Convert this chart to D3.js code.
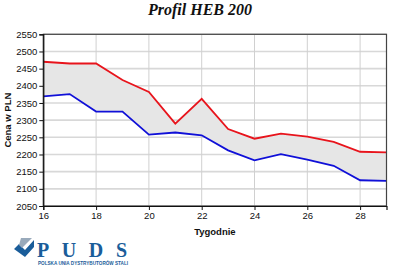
<!DOCTYPE html>
<html><head><meta charset="utf-8">
<script src="https://cdn.jsdelivr.net/npm/d3@7"></script>
<style>body{margin:0;background:#fff}svg{display:block}</style>
</head><body>
<script>
const weeks = [16,17,18,19,20,21,22,23,24,25,26,27,28,29];
const maxPrice = [2470,2465,2465,2417,2382,2290,2362,2274,2246,2261,2252,2237,2208,2206];
const minPrice = [2369,2376,2325,2325,2258,2264,2256,2212,2183,2201,2185,2167,2125,2123];
const xTicks = [16,18,20,22,24,26,28];
const yTicks = [2050,2100,2150,2200,2250,2300,2350,2400,2450,2500,2550];

const W=400,H=271;
const svg=d3.select("body").append("svg").attr("width",W).attr("height",H);
const L=43.3,R=386.5,T=34.3,B=206;
const x=d3.scaleLinear().domain([16,29]).range([L,R]);
const y=d3.scaleLinear().domain([2050,2550]).range([B,T]);

svg.append("g").selectAll("line").data(yTicks).join("line")
 .attr("x1",L).attr("x2",R).attr("y1",d=>y(d)).attr("y2",d=>y(d))
 .attr("stroke","#d8d8d8").attr("stroke-width",1.6);
svg.append("g").selectAll("line").data(xTicks).join("line")
 .attr("x1",d=>x(d)).attr("x2",d=>x(d)).attr("y1",T).attr("y2",B)
 .attr("stroke","#d0d0d0").attr("stroke-width",1);

const data=weeks.map((w,i)=>({w,hi:maxPrice[i],lo:minPrice[i]}));
svg.append("path").datum(data)
 .attr("d",d3.area().x(d=>x(d.w)).y0(d=>y(d.lo)).y1(d=>y(d.hi)))
 .attr("fill","#e6e6e6");
svg.append("path").datum(data).attr("d",d3.line().x(d=>x(d.w)).y(d=>y(d.hi)))
 .attr("fill","none").attr("stroke","#e8141c").attr("stroke-width",1.8);
svg.append("path").datum(data).attr("d",d3.line().x(d=>x(d.w)).y(d=>y(d.lo)))
 .attr("fill","none").attr("stroke","#1010d8").attr("stroke-width",1.8);

svg.append("rect").attr("x",L).attr("y",T).attr("width",R-L).attr("height",B-T)
 .attr("fill","none").attr("stroke","#444").attr("stroke-width",1.2);

const fontAx="Arial, 'Liberation Sans', sans-serif";
const ya=svg.append("g").attr("transform",`translate(${L},0)`)
 .call(d3.axisLeft(y).tickValues(yTicks).tickSize(4).tickPadding(2).tickFormat(d3.format("d")));
const xa=svg.append("g").attr("transform",`translate(0,${B})`)
 .call(d3.axisBottom(x).tickValues(xTicks).tickSize(4).tickPadding(2).tickFormat(d3.format("d")));
[ya,xa].forEach(g=>{g.selectAll("text").attr("font-family",fontAx).attr("font-size",9.5).attr("fill","#111");
 g.selectAll("line").attr("stroke","#111");g.select(".domain").attr("stroke","#111").attr("stroke-width",1.2);});

svg.append("text").attr("x",200).attr("y",15).attr("text-anchor","middle")
 .attr("font-family","'Liberation Serif','Times New Roman',serif").attr("font-weight","bold")
 .attr("font-style","italic").attr("font-size",16).attr("fill","#111").text("Profil HEB 200");
svg.append("text").attr("transform",`translate(11,${(T+B)/2}) rotate(-90)`).attr("text-anchor","middle")
 .attr("font-family",fontAx).attr("font-weight","bold").attr("font-size",9.5).attr("fill","#111").text("Cena w PLN");
svg.append("text").attr("x",(L+R)/2).attr("y",235).attr("text-anchor","middle")
 .attr("font-family",fontAx).attr("font-weight","bold").attr("font-size",9.5).attr("fill","#111").text("Tygodnie");

const lg=svg.append("g");
lg.append("path").attr("d","M14,249 L19,244 L25,250 L34,240 L34,247 L25,257 Z").attr("fill","#1a5d9a");
lg.append("path").attr("d","M21,238 L32,238 L22,248 L19,245 Z").attr("fill","#9ab");
lg.append("text").attr("x",37).attr("y",257).attr("font-family","'Liberation Serif',serif").attr("font-weight","bold")
 .attr("font-size",20).attr("fill","#1a5d9a").attr("textLength",90).attr("lengthAdjust","spacing").text("PUDS");
lg.append("text").attr("x",38).attr("y",264.5).attr("font-family",fontAx).attr("font-weight","bold")
 .attr("font-size",4.6).attr("fill","#1a5d9a").attr("textLength",90).attr("lengthAdjust","spacingAndGlyphs").text("POLSKA UNIA DYSTRYBUTORÓW STALI");
</script>
</body></html>
